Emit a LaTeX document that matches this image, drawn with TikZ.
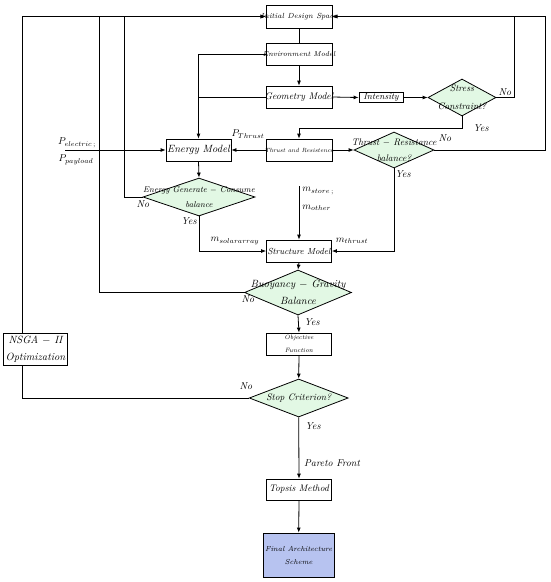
\documentclass[tikz,border=0pt]{standalone}
\usetikzlibrary{arrows.meta,shapes.geometric}
\definecolor{dgreen}{RGB}{226,248,228}
\definecolor{fblue}{RGB}{183,195,240}
\newcommand{\fsz}[2]{\fontsize{#1}{#2}\selectfont}
\tikzset{
  every path/.style={line width=0.8pt},
  arr/.style={-{Latex[length=5pt,width=4pt]}},
  box/.style={draw,fill=white,inner sep=0pt},
  dia/.style={draw,fill=dgreen,diamond,inner sep=0pt},
  txt/.style 2 args={inner sep=0pt,align=center,font={\itshape\fsz{#1}{#2}}},
  lab/.style={inner sep=0pt,font={\itshape\fsz{10}{11}}},
  mlab/.style={inner sep=0pt,font={\fsz{10}{11}}}
}
\begin{document}
\begin{tikzpicture}[x=1pt,y=-1pt]
\useasboundingbox (0,0) rectangle (550,582);
% shapes
\node[box,minimum width=66,minimum height=23] (init) at (299,16.5) {};
\node[box,minimum width=66,minimum height=22] (env) at (299,54) {};
\node[box,minimum width=66,minimum height=22] (geo) at (299,97) {};
\node[box,minimum width=44,minimum height=10] (int) at (381,97.5) {};
\node[dia,minimum width=68,minimum height=37,aspect=1.84] (stress) at (462,97.5) {};
\node[box,minimum width=66,minimum height=22] (thr) at (299,150) {};
\node[dia,minimum width=80,minimum height=36,aspect=2.22] (tr) at (394,150) {};
\node[box,minimum width=65,minimum height=22] (energy) at (198.5,150) {};
\node[dia,minimum width=112,minimum height=38,aspect=2.95] (eg) at (199,197) {};
\node[box,minimum width=65,minimum height=22] (struct) at (299,251) {};
\node[dia,minimum width=107,minimum height=45,aspect=2.38] (buoy) at (298,292.5) {};
\node[box,minimum width=65,minimum height=22] (obj) at (299,344) {};
\node[dia,minimum width=99,minimum height=38,aspect=2.6] (stop) at (298.7,398) {};
\node[box,minimum width=65,minimum height=21] (top) at (299,489.5) {};
\node[box,fill=fblue,minimum width=71,minimum height=44] (fin) at (298.7,555) {};
% coordinates
\coordinate (pin) at (65,150);
\coordinate (mtop) at (299,186);
% connectors
\draw (init.south) -- (env.north);
\draw[arr] (env.south) -- (geo.north);
\draw[arr] (geo.east) -- (int.west);
\draw[arr] (int.east) -- (stress.west);
\draw[arr] (stress.east) -- (514,97.5) |- (init.east);
\draw[arr] (tr.east) -- (545,150) |- (init.east);
\draw[arr] (stress.south) -- (462,128) -| (thr.north);
\draw[arr] (thr.east) -- (tr.west);
\draw[arr] (thr.west) -- (energy.east);
\draw[arr] (env.west) -| (energy.north);
\draw (geo.west) -- (198.5,97);
\draw[arr] (pin) -- (energy.west);
\draw[arr] (energy.south) -- (eg.north);
\draw[arr] (eg.west) -- (124,197) |- (init.west);
\draw[arr] (eg.south) |- (struct.west);
\draw[arr] (tr.south) |- (struct.east);
\draw[arr] (mtop) -- (struct.north);
\draw[arr] (struct.south) -- (buoy.north);
\draw[arr] (buoy.west) -- (99,292.5) |- (init.west);
\draw[arr] (buoy.south) -- (obj.north);
\draw[arr] (obj.south) -- (stop.north);
\draw[arr] (stop.west) -- (22,398) |- (init.west);
\draw[arr] (stop.south) -- (top.north);
\draw[arr] (top.south) -- (fin.north);
\node[box,minimum width=64,minimum height=32] (nsga) at (35.5,349) {};
% texts in shapes
\node[txt={7.4}{8}] (init-t) at (init) {Initial Design Space};
\node[txt={7.2}{8}] (env-t) at (env) {Environment Model};
\node[txt={9.6}{10}] (geo-t) at (geo) {Geometry Model};
\node[txt={9}{9}] (int-t) at (int) {Intensity};
\node[txt={9.5}{18}] (stress-t) at (stress) {Stress\\Constraint?};
\node[txt={6}{7}] (thr-t) at (thr) {Thrust and Resistence};
\node[txt={9.5}{16}] (tr-t) at (tr) {Thrust $-$ Resistance\\balance?};
\node[txt={10.5}{11}] (energy-t) at (energy) {Energy Model};
\node[txt={8.5}{15}] (eg-t) at (eg) {Energy Generate $-$ Consume\\balance};
\node[txt={8.8}{9}] (struct-t) at (struct) {Structure Model};
\node[txt={10.5}{17}] (buoy-t) at (buoy) {Buoyancy $-$ Gravity\\Balance};
\node[txt={6.2}{13}] (obj-t) at (obj) {Objective\\Function};
\node[txt={9.5}{10}] (stop-t) at (stop) {Stop Criterion?};
\node[txt={9.5}{10}] (top-t) at (top) {Topsis Method};
\node[txt={7.2}{13}] (fin-t) at (fin) {Final Architecture\\Scheme};
\node[txt={10.5}{17}] (nsga-t) at (nsga) {NSGA $-$ II\\Optimization};
% labels
\node[lab] (l1) at (505,92) {No};
\node[lab] (l2) at (481,128) {Yes};
\node[lab] (l3) at (445,138) {No};
\node[lab] (l4) at (403,174) {Yes};
\node[lab] (l5) at (143,204) {No};
\node[lab] (l6) at (189,221) {Yes};
\node[lab] (l7) at (248,299) {No};
\node[lab] (l8) at (312,322) {Yes};
\node[lab] (l9) at (246,386) {No};
\node[lab] (l10) at (313,426) {Yes};
\node[lab] (l11) at (332,463) {Pareto Front};
\node[mlab] (l12) at (248,134) {$P_{Thrust}$};
\node[mlab] (l13) at (77,143) {$P_{electric\,;}$};
\node[mlab] (l14) at (76,160) {$P_{payload}$};
\node[mlab,anchor=west] (l15) at (302,191) {$m_{store\,;}$};
\node[mlab,anchor=west] (l16) at (302,208) {$m_{other}$};
\node[mlab] (l17) at (235,241) {$m_{solararray}$};
\node[mlab] (l18) at (352,241) {$m_{thrust}$};
\end{tikzpicture}
\end{document}
